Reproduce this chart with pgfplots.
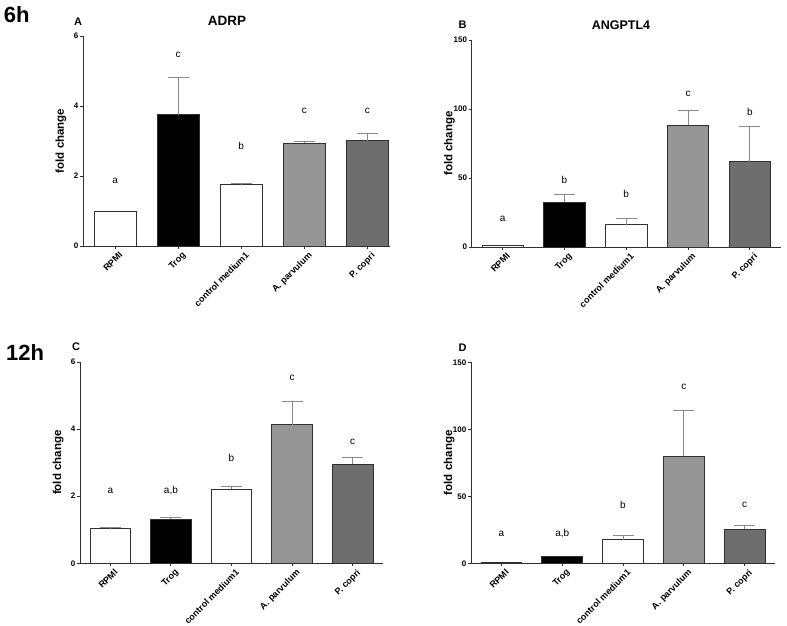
\documentclass[border=0pt]{standalone}
\usepackage{fontspec}
\setmainfont{Liberation Sans}
\usepackage{pgfplots}
\pgfplotsset{compat=1.18}

\definecolor{barA}{HTML}{959595}
\definecolor{barP}{HTML}{6E6E6E}
\definecolor{edge}{HTML}{303030}
\definecolor{errc}{HTML}{8A8A8A}

\tikzset{lett/.style={font=\fontsize{10}{12}\selectfont}}

\pgfplotsset{
  panel/.style={
    scale only axis, anchor=south west,
    axis lines*=left, axis line style={edge, line width=0.8pt},
    xmin=-0.5, xmax=4.5, ymin=0,
    xtick={0,1,2,3,4}, xticklabels={RPMI,Trog,control medium1,A. parvulum,P. copri},
    x tick label style={rotate=45, anchor=north east, font=\bfseries\fontsize{9}{10}\selectfont, inner sep=1pt, yshift=-3pt, xshift=2pt},
    y tick label style={font=\bfseries\fontsize{8}{9}\selectfont, inner sep=1.5pt},
    /pgf/number format/assume math mode=true,
    tick align=outside, major tick length=3pt, tick style={edge, line width=0.8pt},
    ylabel={fold change},
    ylabel style={at={(axis description cs:-0.072,0.5)}, anchor=center, font=\bfseries\fontsize{11.5}{12}\selectfont},
    ybar, bar width=0.67, bar shift=0pt,
    clip=false,
  },
  bx/.style={draw=edge, line width=0.8pt},
  eb/.style={error bars/y dir=plus, error bars/y explicit,
    error bars/error bar style={errc, line width=0.8pt},
    error bars/error mark options={errc, line width=0.8pt, mark size=10.5pt, rotate=90}},
}

\begin{document}
\begin{tikzpicture}
\useasboundingbox (0pt,0pt) rectangle (787pt,626pt);

% row labels and panel titles
\node[font=\bfseries\fontsize{22}{24}\selectfont] at (16.7pt,611.8pt) {6h};
\node[font=\bfseries\fontsize{22}{24}\selectfont] at (25pt,273.5pt) {12h};
\node[font=\bfseries\fontsize{11}{12}\selectfont] at (78pt,604.3pt) {A};
\node[font=\bfseries\fontsize{13.5}{14}\selectfont] at (227pt,605pt) {ADRP};
\node[font=\bfseries\fontsize{11}{12}\selectfont] at (462.5pt,601pt) {B};
\node[font=\bfseries\fontsize{12.5}{13}\selectfont] at (621pt,601pt) {ANGPTL4};
\node[font=\bfseries\fontsize{11}{12}\selectfont] at (76pt,279pt) {C};
\node[font=\bfseries\fontsize{11}{12}\selectfont] at (462.5pt,278.5pt) {D};

% Panel A: ADRP 6h
\begin{axis}[panel, at={(83pt,380pt)}, width=307pt, height=210pt,
  xmin=-0.51, xmax=4.36, ymax=6, ytick={0,2,4,6}]
\addplot[bx, fill=white] coordinates {(0,1.00)};
\addplot[bx, fill=black, eb] coordinates {(1,3.75) +- (0,1.07)};
\addplot[bx, fill=white, eb] coordinates {(2,1.75) +- (0,0.04)};
\addplot[bx, fill=barA, eb] coordinates {(3,2.93) +- (0,0.06)};
\addplot[bx, fill=barP, eb] coordinates {(4,3.01) +- (0,0.20)};
\node[lett] at (axis cs:0,1.85) {a};
\node[lett] at (axis cs:1,5.45) {c};
\node[lett] at (axis cs:2,2.87) {b};
\node[lett] at (axis cs:3,3.86) {c};
\node[lett] at (axis cs:4,3.86) {c};
\end{axis}

% Panel B: ANGPTL4 6h
\begin{axis}[panel, at={(471.7pt,379pt)}, width=309pt, height=207pt,
  ymax=150, ytick={0,50,100,150}]
\addplot[bx, fill=white] coordinates {(0,1.2)};
\addplot[bx, fill=black, eb] coordinates {(1,32.3) +- (0,5.8)};
\addplot[bx, fill=white, eb] coordinates {(2,16.1) +- (0,4.4)};
\addplot[bx, fill=barA, eb] coordinates {(3,88.2) +- (0,11.1)};
\addplot[bx, fill=barP, eb] coordinates {(4,61.7) +- (0,25.8)};
\node[lett] at (axis cs:0,20.2) {a};
\node[lett] at (axis cs:1,48.7) {b};
\node[lett] at (axis cs:2,38.3) {b};
\node[lett] at (axis cs:3,110.8) {c};
\node[lett] at (axis cs:4,97.8) {b};
\end{axis}

% Panel C: ADRP 12h
\begin{axis}[panel, at={(80pt,62.7pt)}, width=303pt, height=201.3pt,
  ymax=6, ytick={0,2,4,6}]
\addplot[bx, fill=white, eb] coordinates {(0,1.03) +- (0,0.05)};
\addplot[bx, fill=black, eb] coordinates {(1,1.32) +- (0,0.05)};
\addplot[bx, fill=white, eb] coordinates {(2,2.20) +- (0,0.09)};
\addplot[bx, fill=barA, eb] coordinates {(3,4.13) +- (0,0.71)};
\addplot[bx, fill=barP, eb] coordinates {(4,2.96) +- (0,0.21)};
\node[lett] at (axis cs:0,2.17) {a};
\node[lett] at (axis cs:1,2.17) {a,b};
\node[lett] at (axis cs:2,3.15) {b};
\node[lett] at (axis cs:3,5.52) {c};
\node[lett] at (axis cs:4,3.61) {c};
\end{axis}

% Panel D: ANGPTL4 12h
\begin{axis}[panel, at={(471pt,62.7pt)}, width=304pt, height=201pt,
  ymax=150, ytick={0,50,100,150}]
\addplot[bx, fill=white] coordinates {(0,1.0)};
\addplot[bx, fill=black] coordinates {(1,5.5)};
\addplot[bx, fill=white, eb] coordinates {(2,17.6) +- (0,3.5)};
\addplot[bx, fill=barA, eb] coordinates {(3,79.7) +- (0,34.7)};
\addplot[bx, fill=barP, eb] coordinates {(4,25.6) +- (0,2.9)};
\node[lett] at (axis cs:0,22.3) {a};
\node[lett] at (axis cs:1,22.3) {a,b};
\node[lett] at (axis cs:2,43.7) {b};
\node[lett] at (axis cs:3,131.5) {c};
\node[lett] at (axis cs:4,43.4) {c};
\end{axis}
\end{tikzpicture}
\end{document}
